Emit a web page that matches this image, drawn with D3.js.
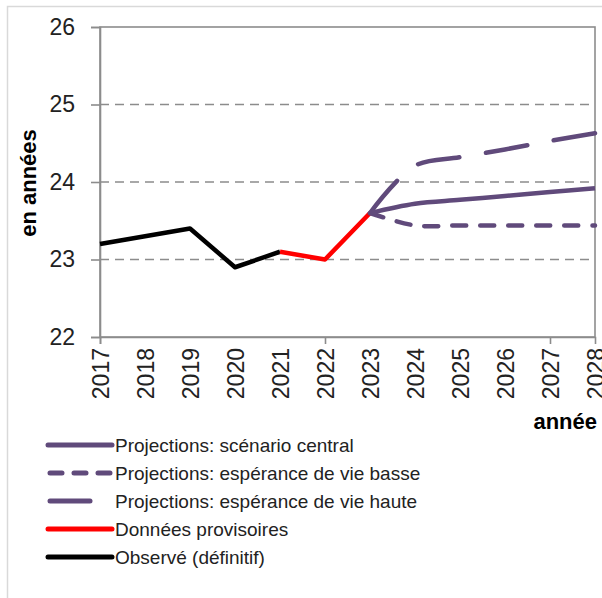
<!DOCTYPE html>
<html>
<head>
<meta charset="utf-8">
<script src="https://cdn.jsdelivr.net/npm/d3@7"></script>
<style>
  body { margin: 0; background: #fff; }
  text { font-family: "Liberation Sans", Arial, sans-serif; }
</style>
</head>
<body>
<div id="chart-area"></div>
<script>
const years = ["2017", "2018", "2019", "2020", "2021", "2022", "2023", "2024", "2025", "2026", "2027", "2028"];
const yTicks = [22, 23, 24, 25, 26];
const xTickMarks = ["2017", "2022", "2027"];

const observed = [23.2, 23.3, 23.4, 22.9, 23.1, null, null, null, null, null, null, null];
const provisional = [null, null, null, null, 23.1, 23.0, 23.6, null, null, null, null, null];
const central = [null, null, null, null, null, null, 23.6, 23.72, 23.77, 23.82, 23.87, 23.92];
const lowLife = [null, null, null, null, null, null, 23.6, 23.44, 23.44, 23.44, 23.44, 23.44];
const highLife = [null, null, null, null, null, null, 23.6, 24.21, 24.32, 24.42, 24.53, 24.63];

const purple = "#604A7B";

const series = [
  { name: "Observé (définitif)", values: observed, color: "#000", dash: null, smooth: false },
  { name: "Données provisoires", values: provisional, color: "#FF0000", dash: null, smooth: false },
  { name: "Projections: espérance de vie basse", values: lowLife, color: purple, dash: "14,14", smooth: true },
  { name: "Projections: espérance de vie haute", values: highLife, color: purple, dash: "42,27", smooth: true },
  { name: "Projections: scénario central", values: central, color: purple, dash: null, smooth: true }
];

const legendOrder = [
  "Projections: scénario central",
  "Projections: espérance de vie basse",
  "Projections: espérance de vie haute",
  "Données provisoires",
  "Observé (définitif)"
];

const margin = { top: 27, right: 7, bottom: 261, left: 100 };
const width = 602 - margin.left - margin.right;
const height = 598 - margin.top - margin.bottom;

const svg = d3.select("#chart-area")
  .append("svg")
  .attr("width", 602)
  .attr("height", 598);

// outer chart frame (cut off at right and bottom)
svg.append("rect")
  .attr("x", 7.5)
  .attr("y", 6.5)
  .attr("width", 640)
  .attr("height", 640)
  .attr("fill", "none")
  .attr("stroke", "#d9d9d9")
  .attr("stroke-width", 1.5);

const g = svg.append("g")
  .attr("transform", `translate(${margin.left}, ${margin.top})`);

const x = d3.scalePoint()
  .domain(years)
  .range([0, width]);

const y = d3.scaleLinear()
  .domain([22, 26])
  .range([height, 0]);

// gridlines
g.selectAll(".grid")
  .data(yTicks.filter(d => d > 22 && d < 26))
  .enter()
  .append("line")
  .attr("x1", 0)
  .attr("x2", width)
  .attr("y1", d => y(d))
  .attr("y2", d => y(d))
  .attr("stroke", "#8c8c8c")
  .attr("stroke-width", 1.6)
  .attr("stroke-dasharray", "9,6");

// plot border
g.append("rect")
  .attr("width", width)
  .attr("height", height)
  .attr("fill", "none")
  .attr("stroke", "#8c8c8c")
  .attr("stroke-width", 1.6);

const yAxis = d3.axisLeft(y)
  .tickValues(yTicks)
  .tickFormat(d3.format("d"))
  .tickSize(9)
  .tickPadding(16);

const yG = g.append("g").call(yAxis);
yG.select(".domain").attr("stroke", "#8c8c8c").attr("stroke-width", 1.6);
yG.selectAll(".tick line").attr("stroke", "#8c8c8c").attr("stroke-width", 1.6);
yG.selectAll(".tick text")
  .attr("font-size", "23px")
  .attr("font-family", "Liberation Sans, Arial, sans-serif")
  .attr("fill", "#222");

// x tick marks every 5 years
const xTickAxis = d3.axisBottom(x)
  .tickValues(xTickMarks)
  .tickSize(7)
  .tickFormat("");

const xtG = g.append("g")
  .attr("transform", `translate(0, ${height})`)
  .call(xTickAxis);
xtG.select(".domain").attr("stroke", "#8c8c8c").attr("stroke-width", 1.6);
xtG.selectAll(".tick line").attr("stroke", "#8c8c8c").attr("stroke-width", 1.6);

// x labels, rotated
const xLabelAxis = d3.axisBottom(x).tickSize(0);
const xlG = g.append("g")
  .attr("transform", `translate(0, ${height})`)
  .call(xLabelAxis);
xlG.select(".domain").remove();
xlG.selectAll(".tick text")
  .attr("transform", "rotate(-90)")
  .attr("x", -11)
  .attr("y", 0)
  .attr("dy", "0.36em")
  .attr("text-anchor", "end")
  .attr("font-size", "23px")
  .attr("font-family", "Liberation Sans, Arial, sans-serif")
  .attr("fill", "#222");

// lines
series.forEach(s => {
  const line = d3.line()
    .defined(d => d != null)
    .x((d, i) => x(years[i]))
    .y(d => y(d))
    .curve(s.smooth ? d3.curveCatmullRom.alpha(0.5) : d3.curveLinear);

  g.append("path")
    .datum(s.values)
    .attr("d", line)
    .attr("fill", "none")
    .attr("stroke", s.color)
    .attr("stroke-width", 4.5)
    .attr("stroke-linecap", s.dash ? "round" : "butt")
    .attr("stroke-linejoin", "round")
    .attr("stroke-dasharray", s.dash);
});

// axis titles
svg.append("text")
  .attr("transform", "rotate(-90)")
  .attr("x", -183)
  .attr("y", 36)
  .attr("text-anchor", "middle")
  .attr("font-size", "22px")
  .attr("font-weight", "bold")
  .text("en années");

svg.append("text")
  .attr("x", 597)
  .attr("y", 429)
  .attr("text-anchor", "end")
  .attr("font-size", "22px")
  .attr("font-weight", "bold")
  .text("année");

// legend
const legend = svg.append("g");
legendOrder.forEach((name, i) => {
  const s = series.find(d => d.name === name);
  const ly = 445 + i * 28;
  const row = legend.append("g").attr("transform", `translate(0, ${ly})`);
  if (name === "Projections: espérance de vie basse") {
    row.append("line")
      .attr("x1", 50).attr("x2", 110)
      .attr("stroke", s.color)
      .attr("stroke-width", 5)
      .attr("stroke-linecap", "round")
      .attr("stroke-dasharray", "12,12");
  } else if (name === "Projections: espérance de vie haute") {
    row.append("line")
      .attr("x1", 50).attr("x2", 90)
      .attr("stroke", s.color)
      .attr("stroke-width", 5)
      .attr("stroke-linecap", "round");
  } else {
    row.append("line")
      .attr("x1", 48).attr("x2", 112)
      .attr("stroke", s.color)
      .attr("stroke-width", 5)
      .attr("stroke-linecap", "round");
  }
  row.append("text")
    .attr("x", 115)
    .attr("dy", "0.35em")
    .attr("font-size", "19px")
    .attr("fill", "#222")
    .text(name);
});
</script>
</body>
</html>
